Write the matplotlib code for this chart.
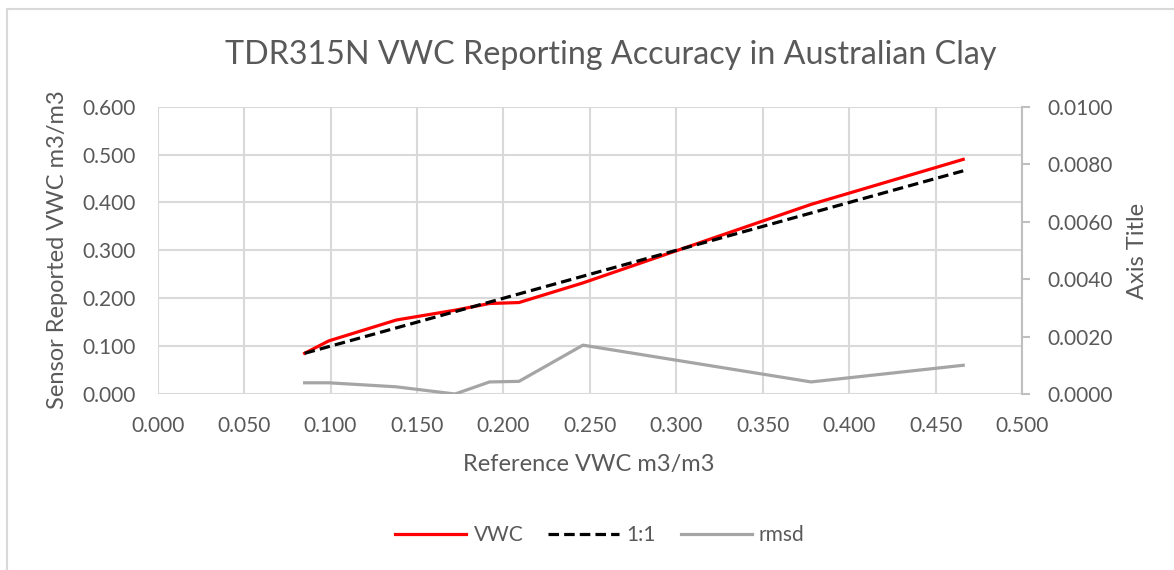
import matplotlib.pyplot as plt
from matplotlib.patches import Rectangle

# reference VWC (x), sensor reported VWC, 1:1 line and rmsd
ref_vwc = [0.085, 0.099, 0.138, 0.172, 0.192, 0.209, 0.246, 0.378, 0.466]
sensor_vwc = [0.085, 0.111, 0.1545, 0.175, 0.189, 0.191, 0.232, 0.396, 0.490]
one_to_one = [0.085, 0.099, 0.138, 0.172, 0.192, 0.209, 0.246, 0.378, 0.466]
rmsd = [0.00039, 0.00039, 0.00025, 0.0, 0.00042, 0.00044, 0.0017, 0.00042, 0.0010]

x_ticks = [0.0, 0.05, 0.1, 0.15, 0.2, 0.25, 0.3, 0.35, 0.4, 0.45, 0.5]
y_ticks = [0.0, 0.1, 0.2, 0.3, 0.4, 0.5, 0.6]
y2_ticks = [0.0, 0.002, 0.004, 0.006, 0.008, 0.01]

plt.rcParams['font.family'] = ['Lato', 'DejaVu Sans']
text_col = '#595959'
grid_col = '#d9d9d9'

W, H = 1174, 570
fig = plt.figure(figsize=(W / 100, H / 100), dpi=100)
fig.patches.append(Rectangle((6.5 / W, -0.1), 1.2, 1 - 8.5 / H + 0.1,
                             transform=fig.transFigure, fill=False,
                             edgecolor=grid_col, linewidth=1.5))

ax = fig.add_axes([157.7 / W, 1 - 394 / H, (1022 - 157.7) / W, (394 - 106.7) / H])
ax2 = ax.twinx()

l1, = ax.plot(ref_vwc, sensor_vwc, color='#ff0000', lw=2.3, label='VWC',
              solid_joinstyle='round', zorder=4)
l2, = ax.plot(ref_vwc, one_to_one, color='black', lw=2.3, label='1:1',
              dashes=(3.3, 1.6), dash_capstyle='butt', zorder=5)
l3, = ax2.plot(ref_vwc, rmsd, color='#a5a5a5', lw=2.3, label='rmsd')

ax.set_xlim(0, 0.5)
ax.set_ylim(0, 0.6)
ax2.set_ylim(0, 0.01)
ax.set_xticks(x_ticks)
ax.set_yticks(y_ticks)
ax2.set_yticks(y2_ticks)
ax.set_xticklabels([f'{v:.3f}' for v in x_ticks])
ax.set_yticklabels([f'{v:.3f}' for v in y_ticks])
ax2.set_yticklabels([f'{v:.4f}' for v in y2_ticks])

ax.grid(True, color=grid_col, lw=1.5)
ax.set_axisbelow(True)
for s in ['left', 'right', 'top', 'bottom']:
    ax.spines[s].set_visible(False)
for s in ['left', 'top', 'bottom']:
    ax2.spines[s].set_visible(False)
ax2.spines['right'].set_color('#bfbfbf')
ax2.spines['right'].set_linewidth(1.5)

ax.tick_params(axis='y', length=0, labelsize=15, labelcolor=text_col, pad=16)
ax.tick_params(axis='x', length=0, labelsize=15, labelcolor=text_col, pad=16)
ax2.tick_params(axis='y', length=6, width=1.5, color='#bfbfbf', direction='out',
                labelsize=15, labelcolor=text_col, pad=12)

# axis titles placed where the reference has them
fig.text(589 / W, 1 - 465 / H, 'Reference VWC m3/m3', fontsize=17,
         color=text_col, ha='center', va='center')
fig.text(57 / W, 1 - 250 / H, 'Sensor Reported VWC m3/m3', fontsize=17,
         color=text_col, ha='center', va='center', rotation=90)
fig.text(1137 / W, 1 - 251 / H, 'Axis Title', fontsize=17,
         color=text_col, ha='center', va='center', rotation=90)

fig.text(0.52, 1 - 55 / H, 'TDR315N VWC Reporting Accuracy in Australian Clay',
         fontsize=23.2, color=text_col, ha='center', va='center')

fig.legend([l1, l2, l3], ['VWC', '1:1', 'rmsd'], loc='center',
           bbox_to_anchor=(600 / W, 1 - 535 / H), ncol=3, frameon=False,
           fontsize=15, labelcolor=text_col, handlelength=3.4,
           handletextpad=0.35, columnspacing=1.2)

fig.savefig('out.png', dpi=100)
